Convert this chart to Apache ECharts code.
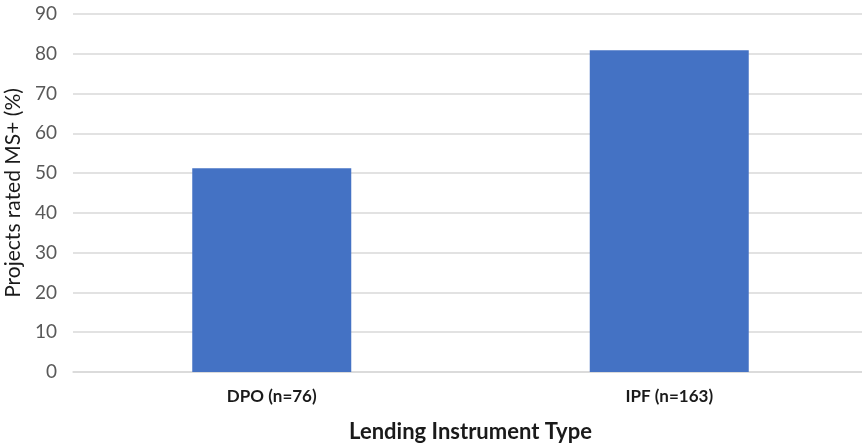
<!DOCTYPE html>
<html>
<head>
<meta charset="utf-8">
<script src="https://cdn.jsdelivr.net/npm/echarts@6/dist/echarts.min.js"></script>
<style>html,body{margin:0;padding:0;background:#fff}#c{width:862px;height:447px}</style>
</head>
<body>
<div id="c"></div>
<script>
const categories = ['DPO (n=76)', 'IPF (n=163)'];
const values = [51.2, 80.9];
const yTicks = {min: 0, max: 90, interval: 10};

const chart = echarts.init(document.getElementById('c'), null, {renderer: 'canvas'});
chart.setOption({
  animation: false,
  backgroundColor: '#ffffff',
  grid: {left: 73, right: -6, top: 14, bottom: 75, containLabel: false, outerBoundsMode: 'none'},
  xAxis: {
    type: 'category',
    data: categories,
    axisLine: {show: true, lineStyle: {color: '#d9d9d9', width: 1.5}},
    axisTick: {show: false},
    axisLabel: {fontFamily: 'Lato', fontWeight: 'bold', fontSize: 17, color: '#1a1a1a', margin: 16},
    name: 'Lending Instrument Type',
    nameLocation: 'middle',
    nameGap: 49,
    nameTextStyle: {fontFamily: 'Lato', fontWeight: 'bold', fontSize: 22, color: '#1a1a1a'}
  },
  yAxis: {
    type: 'value',
    min: yTicks.min, max: yTicks.max, interval: yTicks.interval,
    axisLine: {show: false},
    axisTick: {show: false},
    splitLine: {lineStyle: {color: '#d9d9d9', width: 1.5}},
    axisLabel: {fontFamily: 'Lato', fontSize: 19, color: '#595959', margin: 16},
    name: 'Projects rated MS+ (%)',
    nameLocation: 'middle',
    nameGap: 43,
    nameTextStyle: {fontFamily: 'Lato', fontSize: 21, color: '#1a1a1a'}
  },
  series: [{
    type: 'bar',
    data: values,
    barWidth: 159,
    itemStyle: {color: '#4472C4'}
  }]
});
</script>
</body>
</html>
